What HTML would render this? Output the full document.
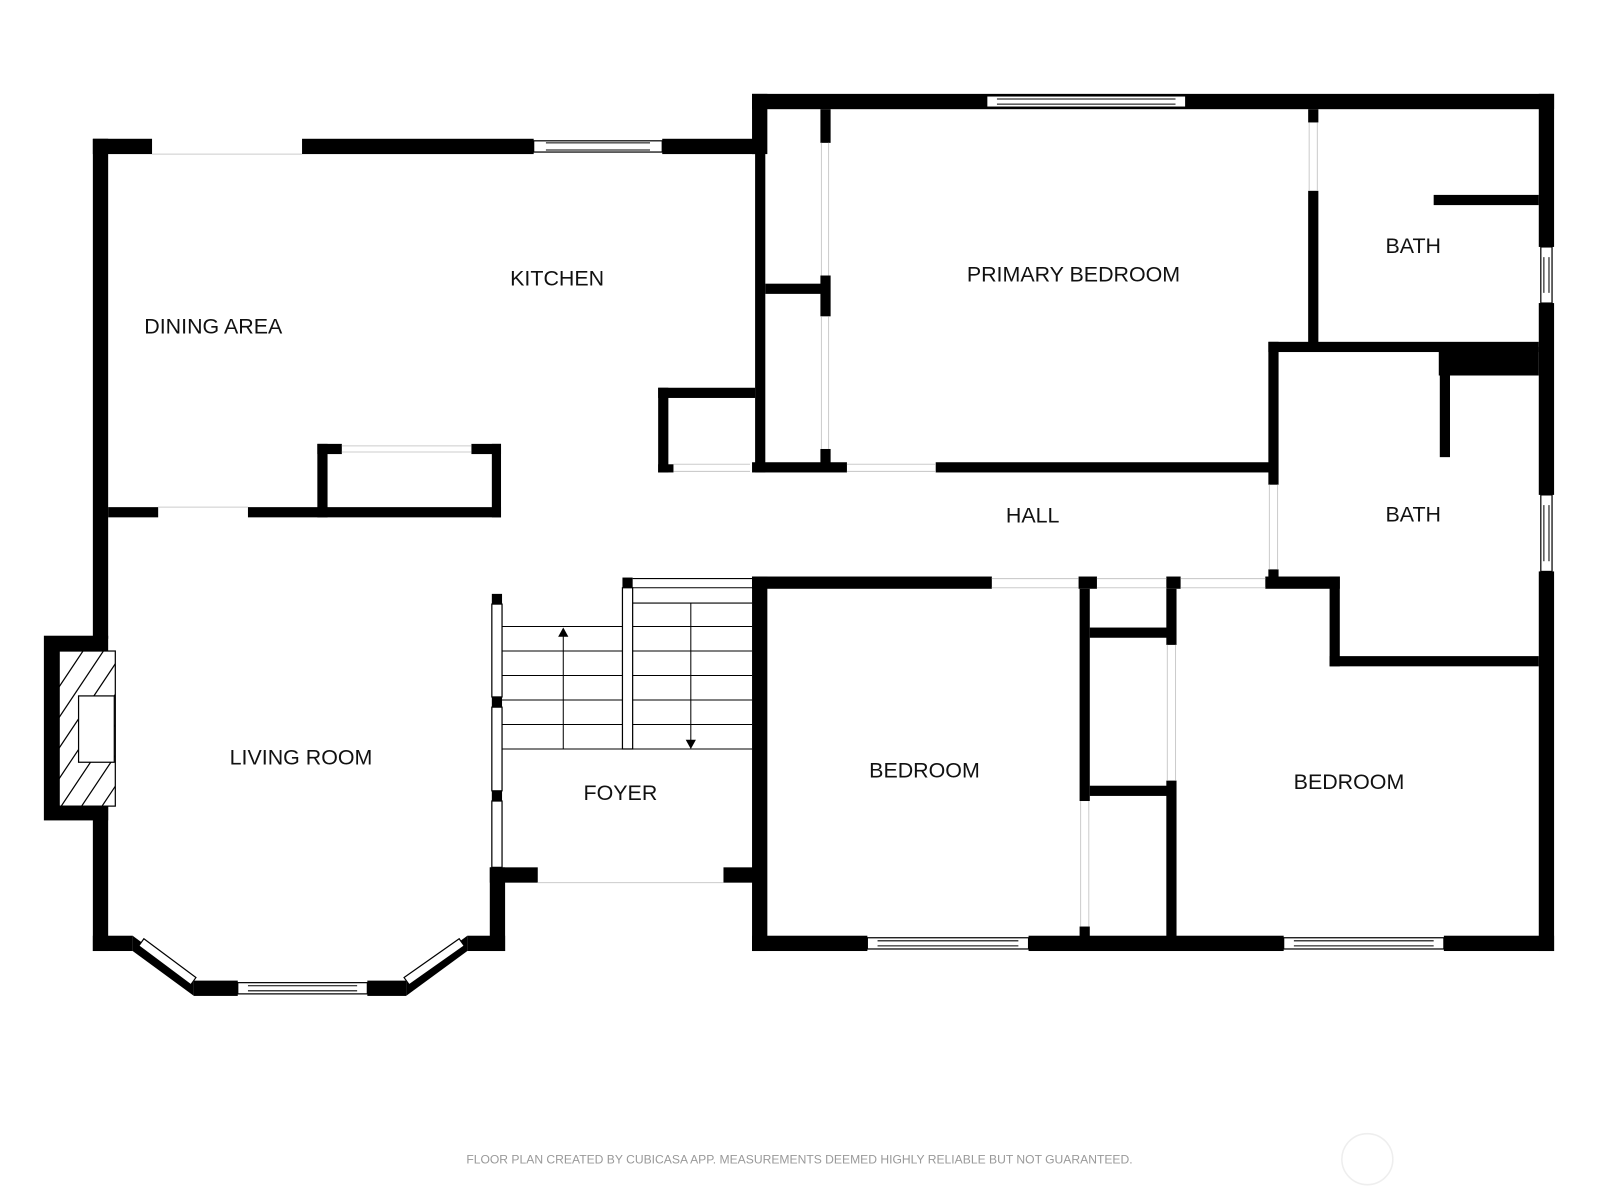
<!DOCTYPE html>
<html><head><meta charset="utf-8"><style>
html,body{margin:0;padding:0;background:#fff;}
svg{display:block}
text{font-family:"Liberation Sans",sans-serif;font-size:21px;fill:#111;}
</style></head><body>
<svg width="1600" height="1200" viewBox="0 0 1568 1176" xmlns="http://www.w3.org/2000/svg">
<g fill="#000">
<rect x="91" y="136" width="58" height="15"/>
<rect x="296" y="136" width="227" height="15"/>
<rect x="649" y="136" width="96" height="15"/>
<rect x="91" y="136" width="15" height="490"/>
<rect x="91" y="790" width="15" height="142"/>
<rect x="43" y="623" width="63" height="181"/>
<rect x="91" y="917" width="39" height="15"/>
<rect x="190" y="961" width="43" height="15"/>
<rect x="360" y="961" width="38" height="15"/>
<rect x="458" y="917" width="37" height="15"/>
<rect x="480" y="850" width="15" height="82"/>
<rect x="480" y="850" width="47" height="15"/>
<rect x="709" y="850" width="36" height="15"/>
<rect x="737" y="92" width="786" height="15"/>
<rect x="737" y="92" width="15" height="59"/>
<rect x="740" y="136" width="10" height="327"/>
<rect x="1508" y="92" width="15" height="150"/>
<rect x="1508" y="297" width="15" height="188"/>
<rect x="1508" y="560" width="15" height="372"/>
<rect x="737" y="917" width="113" height="15"/>
<rect x="1008" y="917" width="250" height="15"/>
<rect x="1415" y="917" width="108" height="15"/>
<rect x="737" y="565" width="15" height="367"/>
<rect x="737" y="565" width="235" height="12"/>
<rect x="1057" y="565" width="18" height="12"/>
<rect x="1143" y="565" width="14" height="12"/>
<rect x="1240" y="565" width="73" height="12"/>
<rect x="1303" y="565" width="10" height="88"/>
<rect x="1303" y="643" width="205" height="10"/>
<rect x="737" y="453" width="93" height="10"/>
<rect x="917" y="453" width="333" height="10"/>
<rect x="804" y="107" width="10" height="33"/>
<rect x="804" y="270" width="10" height="40"/>
<rect x="804" y="440" width="10" height="15"/>
<rect x="750" y="278" width="60" height="10"/>
<rect x="1282" y="107" width="10" height="13"/>
<rect x="1282" y="187" width="10" height="153"/>
<rect x="1243" y="335" width="265" height="10"/>
<rect x="1243" y="335" width="10" height="140"/>
<rect x="1243" y="558" width="10" height="12"/>
<rect x="1405" y="191" width="103" height="10"/>
<rect x="1410" y="340" width="98" height="28"/>
<rect x="1411" y="340" width="10" height="108"/>
<rect x="645" y="380" width="95" height="10"/>
<rect x="645" y="380" width="10" height="83"/>
<rect x="645" y="455" width="15" height="8"/>
<rect x="311" y="435" width="10" height="72"/>
<rect x="311" y="435" width="24" height="10"/>
<rect x="462" y="435" width="29" height="10"/>
<rect x="482" y="435" width="9" height="72"/>
<rect x="106" y="497" width="49" height="10"/>
<rect x="243" y="497" width="248" height="10"/>
<rect x="1058" y="577" width="10" height="208"/>
<rect x="1058" y="908" width="10" height="12"/>
<rect x="1143" y="577" width="10" height="55"/>
<rect x="1143" y="765" width="10" height="155"/>
<rect x="1068" y="615" width="80" height="10"/>
<rect x="1068" y="770" width="80" height="10"/>
<rect x="482" y="582" width="10" height="10"/>
<rect x="482" y="683" width="10" height="10"/>
<rect x="482" y="775" width="10" height="10"/>
<rect x="610" y="566" width="10" height="10"/>
</g>
<polygon points="130,917 130,932 190,976 190,961" fill="#000"/>
<polygon points="398,961 398,976 458,932 458,917" fill="#000"/>
<g fill="#fff" stroke="#000" stroke-width="1.2">
<polygon points="136,927 141,920 192,958 187,965"/>
<polygon points="396,958 450,920 455,927 401,965"/>
<rect x="523" y="138" width="126" height="11"/>
<rect x="967" y="94" width="195" height="11"/>
<rect x="850" y="919" width="158" height="11"/>
<rect x="1258" y="919" width="157" height="11"/>
<rect x="233" y="963" width="127" height="11"/>
<rect x="1510" y="242" width="11" height="55"/>
<rect x="1510" y="485" width="11" height="75"/>
<rect x="58" y="638" width="55" height="152"/>
<rect x="482" y="592" width="10" height="91"/>
<rect x="482" y="693" width="10" height="82"/>
<rect x="482" y="785" width="10" height="65"/>
<rect x="610" y="576" width="10" height="158"/>
</g>
<g stroke="#000" stroke-width="1" fill="none">
<line x1="535" y1="140" x2="637" y2="140"/><line x1="535" y1="147" x2="637" y2="147"/>
<line x1="977" y1="97" x2="1152" y2="97"/><line x1="977" y1="102" x2="1152" y2="102"/>
<line x1="860" y1="922" x2="998" y2="922"/><line x1="860" y1="927" x2="998" y2="927"/>
<line x1="1268" y1="922" x2="1405" y2="922"/><line x1="1268" y1="927" x2="1405" y2="927"/>
<line x1="243" y1="966" x2="350" y2="966"/><line x1="243" y1="971" x2="350" y2="971"/>
<line x1="1513" y1="252" x2="1513" y2="287"/><line x1="1518" y1="252" x2="1518" y2="287"/>
<line x1="1513" y1="495" x2="1513" y2="550"/><line x1="1518" y1="495" x2="1518" y2="550"/>
</g>
<g stroke="#ccc" stroke-width="1">
<line x1="149" y1="151" x2="296" y2="151"/>
<line x1="155" y1="497" x2="243" y2="497"/>
<line x1="335" y1="437" x2="462" y2="437"/><line x1="335" y1="443" x2="462" y2="443"/>
<line x1="660" y1="455" x2="735" y2="455"/><line x1="660" y1="462" x2="735" y2="462"/>
<line x1="830" y1="455" x2="917" y2="455"/><line x1="830" y1="462" x2="917" y2="462"/>
<line x1="805" y1="140" x2="805" y2="270"/><line x1="812" y1="140" x2="812" y2="270"/>
<line x1="805" y1="310" x2="805" y2="440"/><line x1="812" y1="310" x2="812" y2="440"/>
<line x1="1283" y1="120" x2="1283" y2="187"/><line x1="1291" y1="120" x2="1291" y2="187"/>
<line x1="1244" y1="475" x2="1244" y2="558"/><line x1="1252" y1="475" x2="1252" y2="558"/>
<line x1="972" y1="567" x2="1057" y2="567"/><line x1="972" y1="576" x2="1057" y2="576"/>
<line x1="1075" y1="567" x2="1143" y2="567"/><line x1="1075" y1="576" x2="1143" y2="576"/>
<line x1="1157" y1="567" x2="1240" y2="567"/><line x1="1157" y1="576" x2="1240" y2="576"/>
<line x1="1059" y1="785" x2="1059" y2="908"/><line x1="1067" y1="785" x2="1067" y2="908"/>
<line x1="1144" y1="632" x2="1144" y2="765"/><line x1="1152" y1="632" x2="1152" y2="765"/>
<line x1="527" y1="865" x2="709" y2="865"/>
</g>
<clipPath id="fp"><rect x="58" y="638" width="55" height="152"/></clipPath>
<g clip-path="url(#fp)" stroke="#000" stroke-width="1.2">
<line x1="40" y1="700" x2="120" y2="580"/><line x1="40" y1="730" x2="120" y2="610"/>
<line x1="40" y1="760" x2="120" y2="640"/><line x1="40" y1="790" x2="120" y2="670"/>
<line x1="40" y1="820" x2="120" y2="700"/><line x1="40" y1="850" x2="120" y2="730"/>
<line x1="40" y1="880" x2="120" y2="760"/><line x1="40" y1="910" x2="120" y2="790"/>
</g>
<rect x="77" y="682" width="35" height="65" fill="#fff" stroke="#000" stroke-width="1.2"/>
<g stroke="#000" stroke-width="1">
<line x1="620" y1="567" x2="737" y2="567"/>
<line x1="620" y1="576" x2="737" y2="576"/>
<line x1="620" y1="591" x2="737" y2="591"/>
<line x1="492" y1="614" x2="610" y2="614"/><line x1="620" y1="614" x2="737" y2="614"/>
<line x1="492" y1="638" x2="610" y2="638"/><line x1="620" y1="638" x2="737" y2="638"/>
<line x1="492" y1="662" x2="610" y2="662"/><line x1="620" y1="662" x2="737" y2="662"/>
<line x1="492" y1="686" x2="610" y2="686"/><line x1="620" y1="686" x2="737" y2="686"/>
<line x1="492" y1="710" x2="610" y2="710"/><line x1="620" y1="710" x2="737" y2="710"/>
<line x1="492" y1="734" x2="737" y2="734"/>
<line x1="552" y1="622" x2="552" y2="734"/>
<line x1="677" y1="591" x2="677" y2="726"/>
</g>
<polygon points="552,615 547,624 557,624" fill="#000"/>
<polygon points="677,734 672,725 682,725" fill="#000"/>
<text x="546" y="280" text-anchor="middle">KITCHEN</text>
<text x="209" y="327" text-anchor="middle">DINING AREA</text>
<text x="1052" y="276" text-anchor="middle">PRIMARY BEDROOM</text>
<text x="1385" y="248" text-anchor="middle">BATH</text>
<text x="1012" y="512" text-anchor="middle">HALL</text>
<text x="1385" y="511" text-anchor="middle">BATH</text>
<text x="295" y="749" text-anchor="middle">LIVING ROOM</text>
<text x="608" y="784" text-anchor="middle">FOYER</text>
<text x="906" y="762" text-anchor="middle">BEDROOM</text>
<text x="1322" y="773" text-anchor="middle">BEDROOM</text>
<text x="457" y="1140" textLength="653" lengthAdjust="spacingAndGlyphs" style="font-size:12px;fill:#999">FLOOR PLAN CREATED BY CUBICASA APP. MEASUREMENTS DEEMED HIGHLY RELIABLE BUT NOT GUARANTEED.</text>
<circle cx="1340" cy="1136" r="25" fill="none" stroke="#eee" stroke-width="1.5"/>
</svg>
</body></html>
